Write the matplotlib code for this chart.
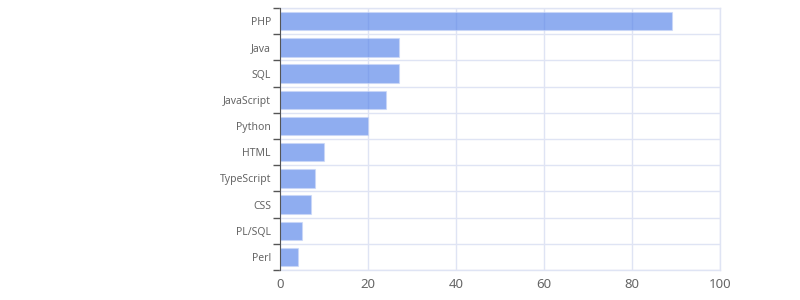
import numpy as np
import matplotlib.pyplot as plt

plt.rcParams['font.family'] = ['Noto Sans', 'DejaVu Sans']

languages = ['PHP', 'Java', 'SQL', 'JavaScript', 'Python', 'HTML',
             'TypeScript', 'CSS', 'PL/SQL', 'Perl']
counts = [89, 27, 27, 24, 20, 10, 8, 7, 5, 4]

fig = plt.figure(figsize=(8, 3), dpi=100)
ax = fig.add_axes([0.35, 0.1, 0.55, 0.873])

pos = np.arange(len(languages))
ax.barh(pos, counts, height=0.7, color='#5381e8', alpha=0.65,
        edgecolor='#c9d6f7', linewidth=0.8, zorder=2)

ax.set_xlim(0, 100)
ax.set_ylim(len(languages) - 0.5, -0.5)
ax.set_xticks([0, 20, 40, 60, 80, 100])
ax.set_yticks(pos)
ax.set_yticklabels(languages)
ax.set_yticks(np.arange(len(languages) + 1) - 0.5, minor=True)

ax.tick_params(axis='y', which='major', length=0, pad=6.5, labelsize=7.5, labelcolor='#666666')
ax.tick_params(axis='y', which='minor', length=5, color='#555555', width=1)
ax.tick_params(axis='x', length=0, pad=6, labelsize=9.5, labelcolor='#666666')

ax.set_axisbelow(True)
ax.grid(axis='x', which='major', color='#dfe4f4', linewidth=1)
ax.grid(axis='y', which='minor', color='#dfe4f4', linewidth=1)

for s in ['top', 'right', 'bottom']:
    ax.spines[s].set_color('#dfe4f4')
    ax.spines[s].set_linewidth(1)
ax.spines['left'].set_color('#555555')
ax.spines['left'].set_zorder(3)

fig.savefig('out.png', dpi=100)
